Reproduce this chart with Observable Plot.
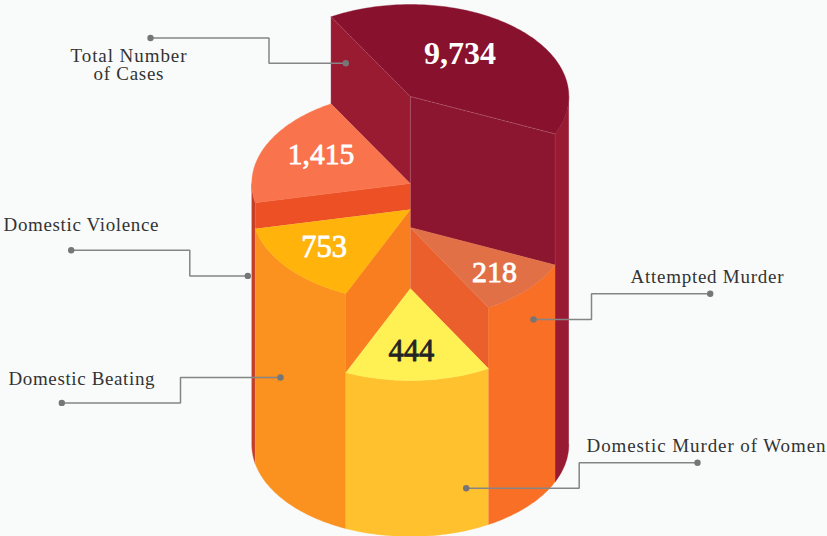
<!DOCTYPE html>
<html>
<head>
<meta charset="utf-8">
<script src="https://cdn.jsdelivr.net/npm/d3@7"></script>
<script src="https://cdn.jsdelivr.net/npm/@observablehq/plot@0.6"></script>
<style>
html,body{margin:0;padding:0;background:#f9fbfb;overflow:hidden}
svg{display:block}
</style>
</head>
<body>
<div id="chart"></div>
<script>
// Data
const categories = ["Total Number of Cases","Domestic Violence","Domestic Beating","Domestic Murder of Women","Attempted Murder"];
const values = [9734,1415,753,444,218];
const valueLabels = values.map(v => d3.format(",")(v));

// Cylinder model: ellipse, floor level, wedge top levels and boundary angles
const centerX = 409.8, radiusX = 158.5, radiusY = 92, floorLevel = 444;
const levels = [96,183,209,288,227];
const angleFrom = [240,168,114,60.5,24];
const angleTo = [384,240,168,114,60.5];

const topColors = ["#88112e","#f9734c","#ffb30b","#fff153","#e27047"];
const sideColors = {
  bigRim:"#991a33", bigLeft:"#991b32", bigRight:"#8c152f",
  violenceRim:"#c33f28", violenceFront:"#ec5024",
  beatingOuter:"#fb911e", beatingWall:"#f97e20",
  murderOuter:"#ffc12d", attemptWall:"#ea5f2b", attemptOuter:"#f96f26"
};

const pt = (t,level) => {
  const a = t*Math.PI/180;
  return {x:centerX+radiusX*Math.cos(a), y:level+radiusY*Math.sin(a)};
};
const arc = (t0,t1,level) => {
  const n = Math.max(2,Math.ceil(Math.abs(t1-t0)));
  return d3.range(n+1).map(i => pt(t0+(t1-t0)*i/n,level));
};
const apex = level => ({x:centerX,y:level});

const polys = [];
const add = (id,fill,pts) => pts.forEach(p => polys.push({id,fill,x:p.x,y:p.y}));
const outerFace = (id,fill,t0,t1,lvl) => add(id,fill,[...arc(t0,t1,lvl),...arc(t1,t0,floorLevel)]);
const wallFace = (id,fill,t,l0,l1) => add(id,fill,[apex(l0),pt(t,l0),pt(t,l1),apex(l1)]);
const topFace = (i) => add("top"+i,topColors[i],[apex(levels[i]),...arc(angleFrom[i],angleTo[i],levels[i])]);

outerFace("bigRim",sideColors.bigRim,0,24,levels[0]);
wallFace("bigLeft",sideColors.bigLeft,240,levels[0],levels[1]);
wallFace("bigRight",sideColors.bigRight,24,levels[0],levels[4]);
outerFace("violenceRim",sideColors.violenceRim,168,180,levels[1]);
wallFace("violenceFront",sideColors.violenceFront,168,levels[1],levels[2]);
outerFace("beatingOuter",sideColors.beatingOuter,114,168,levels[2]);
wallFace("beatingWall",sideColors.beatingWall,114,levels[2],levels[3]);
wallFace("attemptWall",sideColors.attemptWall,60.5,levels[4],levels[3]);
outerFace("attemptOuter",sideColors.attemptOuter,24,60.5,levels[4]);
outerFace("murderOuter",sideColors.murderOuter,60.5,114,levels[3]);
[0,1,2,3,4].forEach(i => topFace(i));

// Leader lines
const leaderPaths = [
  [[150,37.5],[268.5,37.5],[268.5,62.7],[345.3,62.7]],
  [[70.7,249.7],[189.3,249.7],[189.3,275.4],[247.3,275.4]],
  [[61.3,402.4],[180,402.4],[180,377],[280,377]],
  [[709.7,293.3],[591,293.3],[591,319],[533,319]],
  [[697,462.3],[578.7,462.3],[578.7,487.8],[465.7,487.8]]
];
const leaders = leaderPaths.flatMap((p,i) => p.map(([x,y]) => ({i,x,y})));
const leaderEnds = leaderPaths.flatMap(p => [p[0],p[p.length-1]]).map(([x,y]) => ({x,y}));

const captionText = ["Domestic Violence","Domestic Beating","Attempted Murder","Domestic Murder of Women"];
const captionX = [3,8,630,586];
const captionY = [230.6,384,282,451.7];
const captions = captionText.map((text,i) => ({text,x:captionX[i],y:captionY[i]}));
const totalCaption = [{text:"Total Number\nof Cases",x:128,y:79}];
const measuredWidths = new Map([
  ["Domestic Violence",155],["Domestic Beating",146],["Attempted Murder",153],
  ["Domestic Murder of Women",239],["Total Number",116],["of Cases",70]
]);

const numberX = [459.5,320.5,323.7,410.8,494];
const numberY = [63,163.3,256,360,281];
const numberFill = ["#fff","#fff","#fff","#232323","#fff"];
const numberSize = [32,29.5,30.5,30.5,30];
const numbers = valueLabels.map((text,i) => ({text,x:numberX[i],y:numberY[i],fill:numberFill[i],size:numberSize[i],bold:i===0}));

// Thin edges on the big wedge
const edges = [
  {id:"a",x:pt(240,levels[0]).x,y:pt(240,levels[0]).y},{id:"a",x:centerX,y:levels[0]},{id:"a",x:pt(24,levels[0]).x,y:pt(24,levels[0]).y}
];
const verticals = [
  {id:"b",x:centerX,y:levels[0]},{id:"b",x:centerX,y:levels[1]},
  {id:"c",x:pt(24,levels[0]).x,y:pt(24,levels[0]).y},{id:"c",x:pt(24,levels[0]).x,y:pt(24,levels[4]).y}
];

const serif = "'Liberation Serif', serif";
const chart = Plot.plot({
  width:827, height:536, margin:0,
  x:{domain:[0,827],range:[0,827],axis:null},
  y:{domain:[0,536],range:[0,536],axis:null},
  color:{type:"identity"},
  style:{background:"#f9fbfb",overflow:"hidden"},
  marks:[
    Plot.line(polys,{x:"x",y:"y",z:"id",fill:"fill",stroke:"fill",strokeWidth:0.4,curve:"linear"}),
    Plot.line(edges,{x:"x",y:"y",z:"id",stroke:"#c9808f",strokeWidth:0.6,strokeDasharray:"3 1.5",strokeOpacity:0.7}),
    Plot.line(verticals,{x:"x",y:"y",z:"id",stroke:"#b8606f",strokeWidth:0.6,strokeOpacity:0.5}),
    Plot.line(leaders,{x:"x",y:"y",z:"i",stroke:"#858585",strokeWidth:1.5,strokeLinejoin:"miter"}),
    Plot.dot(leaderEnds,{x:"x",y:"y",r:3.2,fill:"#767676",stroke:"none"}),
    Plot.text(captions,{x:"x",y:"y",text:"text",textAnchor:"start",lineAnchor:"bottom",fontFamily:serif,fontSize:19,fill:"#333"}),
    Plot.text(totalCaption,{x:"x",y:"y",text:"text",textAnchor:"middle",lineAnchor:"bottom",lineHeight:18/19,fontFamily:serif,fontSize:19,fill:"#333"}),
    Plot.text(numbers.filter(d=>d.bold),{x:"x",y:"y",text:"text",fill:"fill",textAnchor:"middle",lineAnchor:"bottom",fontFamily:serif,fontSize:d=>d.size,fontWeight:"bold"}),
    Plot.text(numbers.filter(d=>!d.bold),{x:"x",y:"y",text:"text",fill:"fill",stroke:"fill",strokeWidth:0.8,textAnchor:"middle",lineAnchor:"bottom",fontFamily:serif,fontSize:d=>d.size})
  ]
});
document.getElementById("chart").appendChild(chart);
// Stretch captions to the widths measured in the picture
d3.select(chart).selectAll("text, tspan")
  .filter(function(){ return measuredWidths.has(this.textContent); })
  .attr("textLength",function(){ return measuredWidths.get(this.textContent); });
</script>
</body>
</html>
